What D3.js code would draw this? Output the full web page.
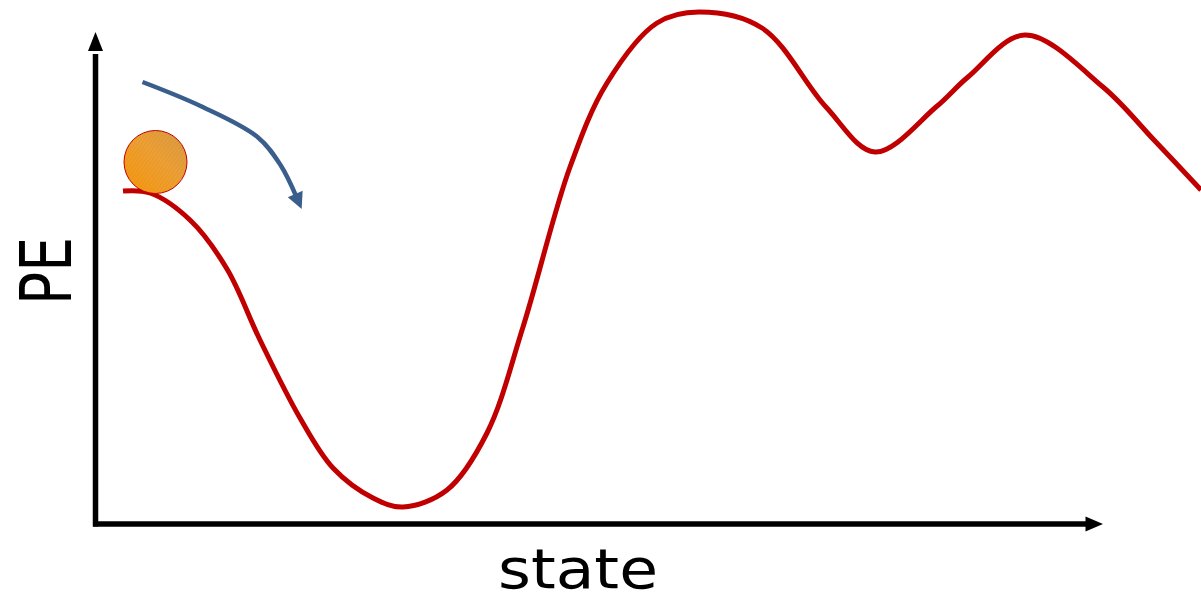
<!DOCTYPE html>
<html>
<head>
<meta charset="utf-8">
<style>
  body { margin: 0; background: #fff; }
  text { font-family: "Comic Sans MS", "DejaVu Sans", sans-serif; fill: #000; }
</style>
</head>
<body>
<svg id="container" width="1201" height="602"></svg>

<script src="https://d3js.org/d3.v7.min.js"></script>
<script>
  // energy landscape (state units, PE units)
  const stateVals = [2.75, 5.45, 9.45, 13.15, 16.45, 20.45, 23.75, 27.75, 30.75, 35.15, 39.15,
    42.75, 47.45, 51.15, 56.15, 60.35, 66.65, 73.05, 77.95, 84.05, 87.25, 92.95, 100.75,
    105.85, 110.55]
  const peVals = [66.6, 66.2, 60.8, 51.0, 36.8, 21.2, 11.2, 5.2, 3.4, 6.8, 18.2,
    39.4, 71.4, 88.2, 100.2, 102.4, 99.2, 83.4, 74.4, 83.4, 89.4, 97.8, 87.4,
    76.8, 66.8]

  // ball sitting on the left shoulder
  const ballState = [6.0]
  const ballPE = [72.4]

  // the "rolling" arrow
  const arrowState = [4.7, 10.5, 16.2, 18.5, 20.1]
  const arrowPE = [88.4, 83.6, 77.4, 71.8, 65.4]

  const labels = { x: 'state', y: 'PE' }

  const svg = d3.select('#container')

  // 10 px per state unit, 5 px per PE unit
  const xScale = d3.scaleLinear()
    .domain([0, 100])
    .range([95.5, 1095.5])
  const yScale = d3.scaleLinear()
    .domain([0, 100])
    .range([524, 24])

  const defs = svg.append('defs')

  // ball shading: orange gradient with fine diagonal hatching
  const grad = defs.append('linearGradient')
    .attr('id', 'ballGrad')
    .attr('x1', '0%').attr('y1', '100%')
    .attr('x2', '100%').attr('y2', '0%')
  grad.append('stop').attr('offset', '0%').attr('stop-color', '#f7960a')
  grad.append('stop').attr('offset', '55%').attr('stop-color', '#eda035')
  grad.append('stop').attr('offset', '100%').attr('stop-color', '#d69a48')

  const hatch = defs.append('pattern')
    .attr('id', 'hatch')
    .attr('patternUnits', 'userSpaceOnUse')
    .attr('width', 3).attr('height', 3)
    .attr('patternTransform', 'rotate(35)')
  hatch.append('line')
    .attr('x1', 0).attr('y1', 0).attr('x2', 0).attr('y2', 3)
    .attr('stroke', '#c77a10')
    .attr('stroke-width', 0.8)
    .attr('stroke-opacity', 0.45)

  defs.append('marker')
    .attr('id', 'blueHead')
    .attr('viewBox', '0 0 10 10')
    .attr('refX', 2).attr('refY', 5)
    .attr('markerWidth', 4.2).attr('markerHeight', 3.6)
    .attr('markerUnits', 'strokeWidth')
    .attr('orient', 'auto')
    .append('path')
    .attr('d', 'M0,0 L10,5 L0,10 Z')
    .attr('fill', '#3a5e8c')

  // axes with arrow heads
  const x0 = xScale(0), y0 = yScale(0)
  svg.append('line')
    .attr('x1', x0).attr('y1', y0 + 2.5)
    .attr('x2', x0).attr('y2', yScale(94))
    .attr('stroke', '#000').attr('stroke-width', 5.5)
  svg.append('path')
    .attr('d', `M${x0},${yScale(98.4)} L${x0 + 7.5},${yScale(94.6)} L${x0 - 7.5},${yScale(94.6)} Z`)
    .attr('fill', '#000')

  svg.append('line')
    .attr('x1', x0 - 2.5).attr('y1', y0)
    .attr('x2', xScale(99.5)).attr('y2', y0)
    .attr('stroke', '#000').attr('stroke-width', 5.5)
  svg.append('path')
    .attr('d', `M${xScale(100.75)},${y0} L${xScale(99.0)},${y0 - 7.5} L${xScale(99.0)},${y0 + 7.5} Z`)
    .attr('fill', '#000')

  // landscape curve
  const curveData = stateVals.map((s, i) => [s, peVals[i]])
  const line = d3.line()
    .x(d => xScale(d[0]))
    .y(d => yScale(d[1]))
    .curve(d3.curveCatmullRom.alpha(0.5))

  svg.append('path')
    .datum(curveData)
    .attr('d', line)
    .attr('fill', 'none')
    .attr('stroke', '#c00000')
    .attr('stroke-width', 5)
    .attr('stroke-linejoin', 'round')

  // ball
  const ball = svg.append('g')
  ball.append('circle')
    .attr('cx', xScale(ballState[0])).attr('cy', yScale(ballPE[0]))
    .attr('r', 31.5)
    .attr('fill', 'url(#ballGrad)')
  ball.append('circle')
    .attr('cx', xScale(ballState[0])).attr('cy', yScale(ballPE[0]))
    .attr('r', 31.5)
    .attr('fill', 'url(#hatch)')
    .attr('stroke', '#c00000')
    .attr('stroke-width', 1)

  // blue arrow
  const arrowData = arrowState.map((s, i) => [s, arrowPE[i]])
  svg.append('path')
    .datum(arrowData)
    .attr('d', line)
    .attr('fill', 'none')
    .attr('stroke', '#3a5e8c')
    .attr('stroke-width', 4.5)
    .attr('marker-end', 'url(#blueHead)')

  // axis labels
  svg.append('text')
    .attr('x', 578).attr('y', 588)
    .attr('text-anchor', 'middle')
    .attr('font-size', 55)
    .attr('textLength', 160)
    .attr('lengthAdjust', 'spacingAndGlyphs')
    .text(labels.x)

  svg.append('text')
    .attr('transform', 'translate(71,271) rotate(-90)')
    .attr('text-anchor', 'middle')
    .attr('font-size', 71)
    .attr('textLength', 68)
    .attr('lengthAdjust', 'spacingAndGlyphs')
    .text(labels.y)
</script>
</body>
</html>
